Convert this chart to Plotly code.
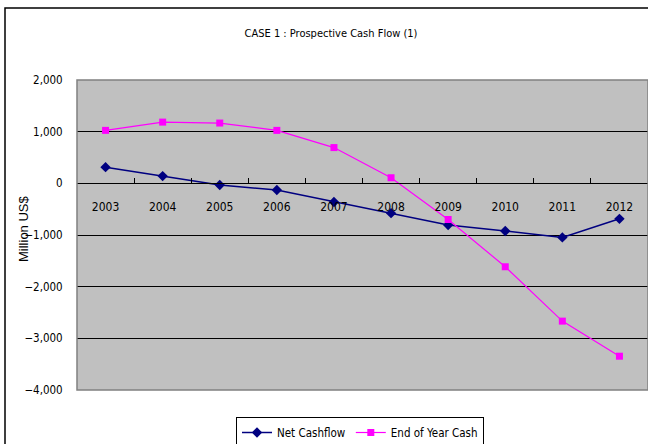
import plotly.graph_objects as go

years = ["2003", "2004", "2005", "2006", "2007", "2008", "2009", "2010", "2011", "2012"]
net_cashflow = [313, 140, -33, -130, -360, -577, -808, -923, -1046, -687]
end_of_year_cash = [1025, 1185, 1167, 1025, 692, 108, -700, -1615, -2667, -3346]
y_ticks = [2000, 1000, 0, -1000, -2000, -3000, -4000]

NARROW = "Liberation Sans Narrow, DejaVu Sans Condensed, Arial Narrow, sans-serif"

fig = go.Figure()
fig.add_trace(go.Scatter(
    x=years, y=net_cashflow, name="Net Cashflow", mode="lines+markers",
    line=dict(color="#000080", width=1.5),
    marker=dict(symbol="diamond", size=8, color="#000080"),
))
fig.add_trace(go.Scatter(
    x=years, y=end_of_year_cash, name="End of Year Cash", mode="lines+markers",
    line=dict(color="#FF00FF", width=1.2),
    marker=dict(symbol="square", size=7, color="#FF00FF"),
))

W, H = 648, 444
L, R, T, B = 77, 0, 80, 54
pw, ph = W - L - R, H - T - B

def px_x(x):
    return (x - L) / pw

def px_y(y):
    return (H - B - y) / ph

fig.update_layout(
    width=W, height=H,
    margin=dict(l=L, r=R, t=T, b=B, autoexpand=False),
    paper_bgcolor="white",
    plot_bgcolor="#c0c0c0",
    font=dict(family=NARROW, size=12, color="black"),
    title=dict(text="CASE 1 : Prospective Cash Flow (1)", x=331 / W, xanchor="center",
               xref="container", y=1 - 33 / H, yanchor="middle", yref="container",
               font=dict(family=NARROW, size=11)),
    showlegend=True,
    legend=dict(orientation="h", xref="container", x=360 / W, xanchor="center",
                yref="container", y=1 - 417 / H, yanchor="top",
                bordercolor="black", borderwidth=1, bgcolor="white",
                itemwidth=30,
                font=dict(family=NARROW, size=11.5), tracegroupgap=0),
    xaxis=dict(type="category", range=[-0.5, 9.5], tickson="boundaries",
               ticks="inside", ticklen=5, tickcolor="black", showgrid=False,
               showline=True, linecolor="black", linewidth=1,
               anchor="free", position=4000 / 6000, fixedrange=True, automargin=False,
               ticklabelstandoff=12,
               tickfont=dict(family=NARROW, size=12)),
    yaxis=dict(range=[-4000, 2000], tickvals=y_ticks, tickformat=",",
               showgrid=True, gridcolor="black", gridwidth=1, zeroline=True,
               zerolinecolor="black", zerolinewidth=1, automargin=False,
               ticks="outside", ticklen=11, tickcolor="rgba(0,0,0,0)",
               tickfont=dict(family=NARROW, size=11.5)),
    annotations=[
        dict(text="Million US$", xref="paper", yref="paper", x=px_x(24), y=px_y(229),
             xanchor="center", yanchor="middle", textangle=-90, showarrow=False,
             font=dict(family="Liberation Sans, Arial, sans-serif", size=13)),
    ],
    shapes=[
        dict(type="rect", xref="paper", yref="paper", x0=0, x1=1, y0=0, y1=1,
             line=dict(color="#808080", width=1.5)),
        dict(type="rect", xref="paper", yref="paper", x0=px_x(5), x1=px_x(660),
             y0=px_y(460), y1=px_y(8), line=dict(color="black", width=1.5)),
    ],
)

fig.write_html("out.html", config={"displayModeBar": False},
               post_script="document.body.style.margin='0';document.body.style.overflow='hidden';")
